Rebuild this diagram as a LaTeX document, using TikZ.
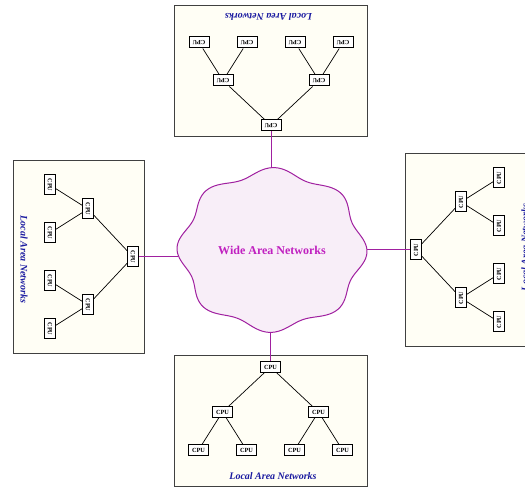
\documentclass[tikz,border=0pt]{standalone}
\usepackage{fontspec}
\setmainfont{Liberation Serif}
\usetikzlibrary{arrows.meta, calc}

\definecolor{lanfill}{HTML}{FFFEF5}
\definecolor{landraw}{HTML}{404040}
\definecolor{wanfill}{HTML}{F8EEF8}
\definecolor{wandraw}{HTML}{A020A0}
\definecolor{wantext}{HTML}{C020C0}
\definecolor{labelblue}{HTML}{1A1AA0}

\begin{document}
\begin{tikzpicture}[
    x=1pt, y=1pt,
    lanbox/.style = {rectangle, draw=landraw, fill=lanfill, line width=1pt, minimum width=193pt, minimum height=131pt, inner sep=0pt},
    cpu/.style = {rectangle, draw=black, fill=white, line width=1pt, minimum width=20pt, minimum height=11pt, inner sep=1pt, font=\fontsize{6.3}{6.3}\selectfont\bfseries},
    lanlabel/.style = {text=labelblue, font=\fontsize{10}{12}\selectfont\bfseries\itshape},
    link/.style = {draw, black, line width=0.7pt},
    wanline/.style = {draw=wandraw, line width=1pt},
    lan/.pic = {
        \node [lanbox] (-box) at (0,0) {};
        \node [cpu] (-root) at (0,54.5) {CPU};
        \node [cpu] (-left) at (-48,9.5) {CPU};
        \node [cpu] (-right) at (48,9.5) {CPU};
        \node [cpu] (-leaf1) at (-72,-28.5) {CPU};
        \node [cpu] (-leaf2) at (-24,-28.5) {CPU};
        \node [cpu] (-leaf3) at (24,-28.5) {CPU};
        \node [cpu] (-leaf4) at (72,-28.5) {CPU};
        \node [lanlabel] (-label) at (2.5,-54.5) {Local Area Networks};
        \draw [link] (-root) -- (-left);
        \draw [link] (-root) -- (-right);
        \draw [link] (-left) -- (-leaf1);
        \draw [link] (-left) -- (-leaf2);
        \draw [link] (-right) -- (-leaf3);
        \draw [link] (-right) -- (-leaf4);
    }
]
    \clip (0,0) rectangle (525,487);
    % wide area cloud
    \draw [wanline, fill=wanfill] plot [domain=0:360, samples=181]
        ({272+90.5*(1+0.05*cos(8*\x+10))*cos(\x)}, {237+78.5*(1+0.05*cos(8*\x+10))*sin(\x)}) -- cycle;
    \node [text=wantext, font=\fontsize{12}{14}\selectfont\bfseries] (wan) at (272,237) {Wide Area Networks};
    \coordinate (wan-n) at (271,319);
    \coordinate (wan-s) at (270.5,155);
    \coordinate (wan-w) at (178,230);
    \coordinate (wan-e) at (367,237);
    % local area networks
    \pic [transform shape] (south) at (270.5,65.5) {lan};
    \pic [rotate=180, transform shape] (north) at (271,416) {lan};
    \pic [rotate=-90, transform shape] (west) at (78.5,230) {lan};
    \pic [rotate=90, transform shape] (east) at (470.5,237) {lan};
    % links to the cloud
    \draw [wanline] (north-root) -- (wan-n);
    \draw [wanline] (south-root) -- (wan-s);
    \draw [wanline] (west-root) -- (wan-w);
    \draw [wanline] (east-root) -- (wan-e);
\end{tikzpicture}
\end{document}
